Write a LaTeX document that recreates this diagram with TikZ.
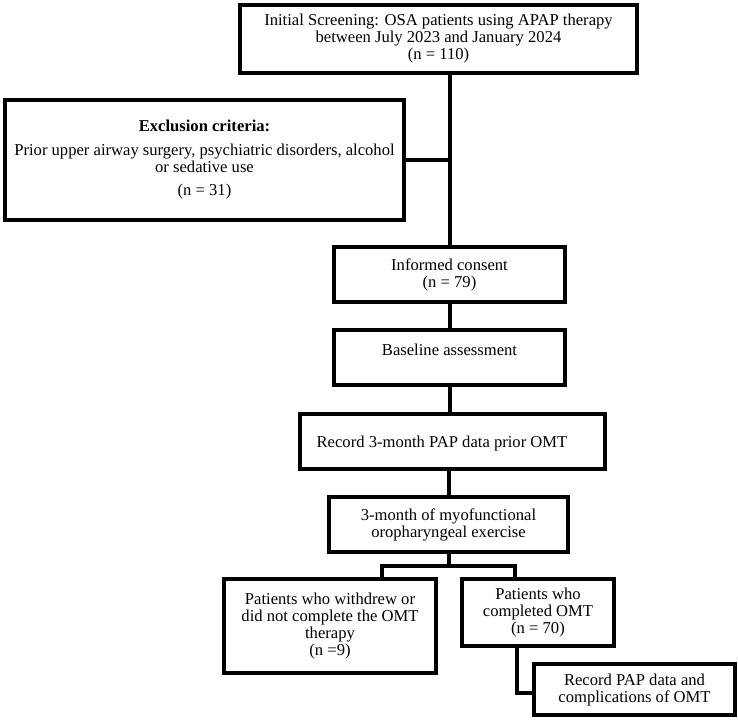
\documentclass[tikz,border=0pt]{standalone}
\usepackage{fontspec}
\setmainfont{Liberation Serif}
\begin{document}
\begin{tikzpicture}[x=1pt,y=-1pt,
  box/.style={draw, line width=4pt, inner sep=2pt, align=center, font=\fontsize{16.6}{17}\selectfont},
  txt/.style={inner sep=0pt, align=center, font=\fontsize{16.6}{17}\selectfont},
  conn/.style={line width=4pt}]
\useasboundingbox (0,0) rectangle (738,723);
% boxes
\node[box, minimum width=397pt, minimum height=68pt] (top) at (438.5,39)
  {Initial Screening: OSA patients using APAP therapy\\between July 2023 and January 2024\\(n = 110)};
\node[box, minimum width=399pt, minimum height=120pt] (excl) at (204.5,160)
  {{\bfseries Exclusion criteria:}\\[7pt]Prior upper airway surgery, psychiatric disorders, alcohol\\or sedative use\\[6pt](n = 31)};
\node[box, minimum width=231pt, minimum height=55pt] (informed) at (449.5,274.5)
  {Informed consent\\(n = 79)};
\node[box, minimum width=231pt, minimum height=55pt] (baseline) at (449.5,357.5) {};
\node[txt] (baselinet) at (449.5,350) {Baseline assessment};
\node[box, minimum width=305pt, minimum height=55pt] (record) at (452.5,441.5) {};
\node[txt] (recordt) at (442,443) {Record 3-month PAP data prior OMT};
\node[box, minimum width=239pt, minimum height=55pt] (myo) at (448.5,524.5)
  {3-month of myofunctional\\oropharyngeal exercise};
\node[box, minimum width=212pt, minimum height=94pt] (left) at (330,626)
  {Patients who withdrew or\\did not complete the OMT\\therapy\\(n =9)};
\node[box, minimum width=152pt, minimum height=67pt] (right) at (538,612.5)
  {Patients who\\completed OMT\\(n = 70)};
\node[box, minimum width=201pt, minimum height=51pt] (recpap) at (634.5,689.5)
  {Record PAP data and\\complications of OMT};
% connector coordinates
\coordinate (sl) at (382,566);
\coordinate (sr) at (515,566);
\coordinate (bend) at (517,693);
% connectors
\draw[conn] (top.south -| informed.north) -- (informed.north);
\draw[conn] (excl.east) -- (excl.east -| informed.north);
\draw[conn] (informed.south) -- (baseline.north);
\draw[conn] (baseline.south) -- (record.north -| baseline.south);
\draw[conn] (record.south -| myo.north) -- (myo.north);
\draw[conn] (myo.south) -- (myo.south |- sl);
\draw[conn] (left.north -| sl) -- (sl) -- (sr) -- (right.north -| sr);
\draw[conn] (right.south -| bend) -- (bend) -- (recpap.west |- bend);
\end{tikzpicture}
\end{document}
